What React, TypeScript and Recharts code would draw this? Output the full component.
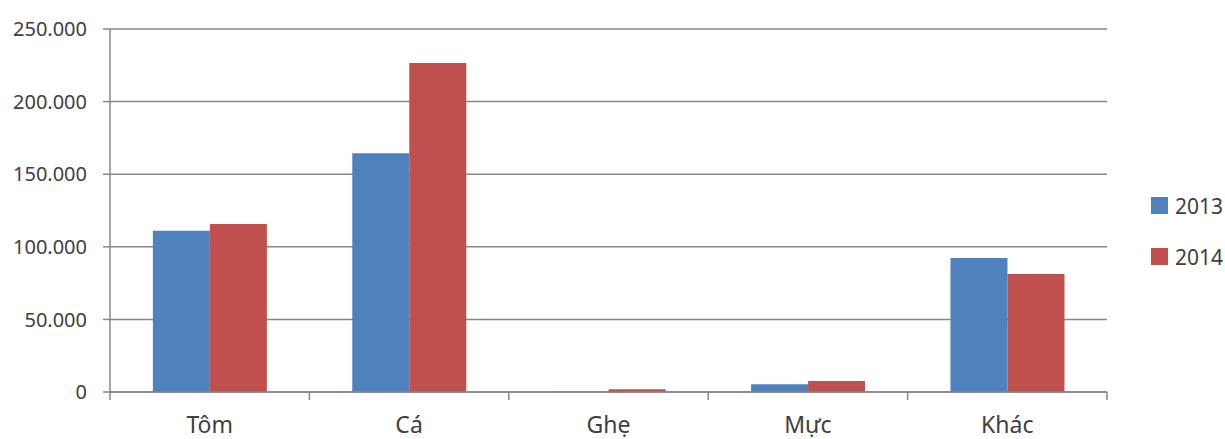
import React from "react";
import { BarChart, Bar, XAxis, YAxis, CartesianGrid } from "recharts";

const categories = ["Tôm", "Cá", "Ghẹ", "Mực", "Khác"];
const values2013 = [111000, 164500, 300, 5300, 92300];
const values2014 = [115700, 226600, 1900, 7600, 81300];
const yTicks = [0, 50000, 100000, 150000, 200000, 250000];
const seriesNames = ["2013", "2014"];

const data = categories.map((name, i) => ({
  name,
  y2013: values2013[i],
  y2014: values2014[i],
}));

const W = 1225;
const H = 439;
const LEFT = 110;
const RIGHT = 118;
const TOP = 29;
const BOTTOM = 47;
const PLOT_BOTTOM = H - BOTTOM;
const BAND = (W - LEFT - RIGHT) / categories.length;
const AXIS_COLOR = "#878787";
const TEXT_COLOR = "#404040";
const COLORS = ["#4F81BD", "#C0504D"];
const FONT = "'Noto Sans', sans-serif";

const fmt = (v: number) => String(v).replace(/\B(?=(\d{3})+(?!\d))/g, ".");

function CategoryTick(props: any) {
  const { x, index, payload } = props;
  const left = x - BAND / 2;
  return (
    <g>
      <line x1={left} y1={PLOT_BOTTOM} x2={left} y2={PLOT_BOTTOM + 8} stroke={AXIS_COLOR} strokeWidth={1.5} />
      {index === categories.length - 1 && (
        <line x1={left + BAND} y1={PLOT_BOTTOM} x2={left + BAND} y2={PLOT_BOTTOM + 8} stroke={AXIS_COLOR} strokeWidth={1.5} />
      )}
      <text x={x} y={PLOT_BOTTOM + 41} textAnchor="middle" fill={TEXT_COLOR} fontSize={23} fontFamily={FONT}>
        {payload.value}
      </text>
    </g>
  );
}

export default function App() {
  return (
    <div style={{ position: "fixed", left: 0, top: 0, width: W, height: H, background: "#fff" }}>
      <BarChart
        width={W}
        height={H}
        data={data}
        margin={{ top: TOP, right: RIGHT, left: 0, bottom: 0 }}
        barCategoryGap="21.5%"
        barGap={0}
      >
        <CartesianGrid vertical={false} stroke={AXIS_COLOR} strokeWidth={1.5} />
        <XAxis
          dataKey="name"
          axisLine={{ stroke: AXIS_COLOR, strokeWidth: 1.5 }}
          tickLine={false}
          tick={<CategoryTick />}
          interval={0}
          height={BOTTOM}
        />
        <YAxis
          width={LEFT}
          domain={[0, 250000]}
          ticks={yTicks}
          tickFormatter={fmt}
          axisLine={{ stroke: AXIS_COLOR, strokeWidth: 1.5 }}
          tickLine={{ stroke: AXIS_COLOR, strokeWidth: 1.5 }}
          tickSize={7}
          tickMargin={16}
          tick={{ fill: TEXT_COLOR, fontSize: 20, fontFamily: FONT }}
        />
        <Bar dataKey="y2013" name="2013" fill={COLORS[0]} isAnimationActive={false} />
        <Bar dataKey="y2014" name="2014" fill={COLORS[1]} isAnimationActive={false} />
      </BarChart>
      <div style={{ position: "absolute", left: 1151, top: 180, fontFamily: FONT }}>
        {seriesNames.map((label, i) => (
          <div key={label} style={{ display: "flex", alignItems: "center", height: 51 }}>
            <span style={{ width: 17, height: 17, background: COLORS[i], display: "inline-block", marginRight: 7 }} />
            <span style={{ fontSize: 21, color: TEXT_COLOR }}>{label}</span>
          </div>
        ))}
      </div>
    </div>
  );
}
